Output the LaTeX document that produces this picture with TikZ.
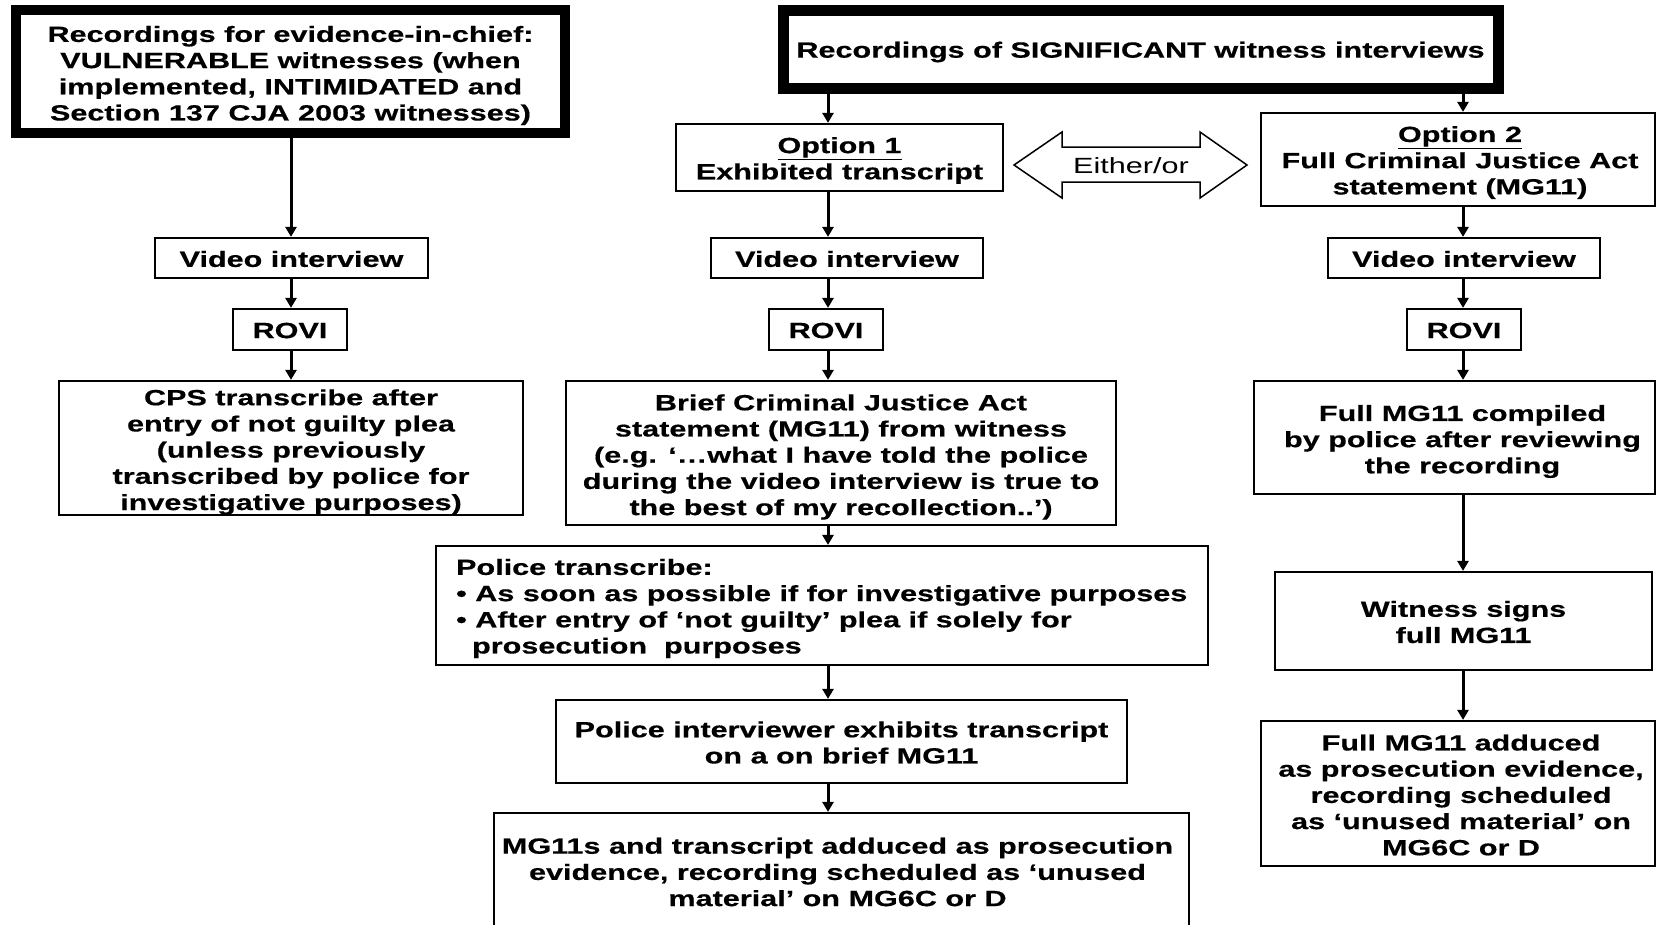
\documentclass[tikz,border=0pt]{standalone}
\usepackage{fontspec}
\setmainfont{Liberation Sans}[FakeStretch=1.39, BoldFeatures={FakeBold=0.5}]
\usetikzlibrary{arrows.meta}
\begin{document}
\begin{tikzpicture}[x=1pt,y=-1pt,
  box/.style={draw, line width=2.2pt, rectangle, inner sep=0pt},
  heavybox/.style={box, line width=11pt},
  txt/.style={inner sep=0pt, align=center, font=\bfseries\fontsize{22}{26.2}\selectfont},
  arr/.style={line width=3pt, -{Triangle[width=11pt,length=10pt]}},
]
\clip (0,0) rectangle (1656,924);
\fill[white] (0,0) rectangle (1656,924);
\coordinate (cl) at (291,0);
\coordinate (cm) at (828,0);
\coordinate (cr) at (1463,0);

% left column
\node[heavybox, line width=10pt, minimum width=549, minimum height=123] (A) at (290.5,71.5) {};
\node[txt] (At) at ([yshift=-4pt]A.center)
  {Recordings for evidence-in-chief:\\VULNERABLE witnesses (when\\implemented, INTIMIDATED and\\Section 137 CJA 2003 witnesses)};
\node[box, minimum width=273, minimum height=40] (VL) at (291.5,258) {};
\node[txt] (VLt) at ([yshift=-1pt]VL.center) {Video interview};
\node[box, minimum width=114, minimum height=41] (RL) at (290,329.5) {};
\node[txt] (RLt) at ([yshift=-1pt]RL.center) {ROVI};
\node[box, minimum width=464, minimum height=134] (CPS) at (291,448) {};
\node[txt] (CPSt) at ([yshift=-4pt]CPS.center)
  {CPS transcribe after\\entry of not guilty plea\\(unless previously\\transcribed by police for\\investigative purposes)};

% top middle
\node[heavybox, minimum width=715, minimum height=78] (T) at (1140.5,49) {};
\node[txt] (Tt) at ([yshift=-3pt]T.center) {Recordings of SIGNIFICANT witness interviews};

% middle column
\node[box, minimum width=327, minimum height=67] (O1) at (839.5,157.5) {};
\node[txt] (O1t) at ([yshift=-3pt]O1.center) {\underline{Option 1}\\Exhibited transcript};
\node[box, minimum width=272, minimum height=40] (VM) at (847,258) {};
\node[txt] (VMt) at ([yshift=-1pt]VM.center) {Video interview};
\node[box, minimum width=114, minimum height=41] (RM) at (826,329.5) {};
\node[txt] (RMt) at ([yshift=-1pt]RM.center) {ROVI};
\node[box, minimum width=550, minimum height=144] (BR) at (841,453) {};
\node[txt] (BRt) at ([yshift=-4pt]BR.center)
  {Brief Criminal Justice Act\\statement (MG11) from witness\\(e.g. ‘…what I have told the police\\during the video interview is true to\\the best of my recollection..’)};
\node[box, minimum width=772, minimum height=119] (PT) at (822,605.5) {};
\node[txt, align=left, anchor=west] (PTt) at ([xshift=21pt,yshift=-3pt]PT.west)
  {Police transcribe:\\• As soon as possible if for investigative purposes\\• After entry of ‘not guilty’ plea if solely for\\\hspace*{16pt}prosecution\ \ purposes};
\node[box, minimum width=571, minimum height=83] (PI) at (841.5,741.5) {};
\node[txt] (PIt) at ([yshift=-1pt]PI.center) {Police interviewer exhibits transcript\\on a on brief MG11};
\node[box, minimum width=695, minimum height=122] (MG) at (841.5,874) {};
\node[txt] (MGt) at ([xshift=-4pt,yshift=2pt]MG.center)
  {MG11s and transcript adduced as prosecution\\evidence, recording scheduled as ‘unused\\material’ on MG6C or D};

% either/or arrow
\draw[line width=1.5pt] (1014,165) -- (1062,132) -- (1062,147) -- (1200,147) -- (1200,132)
  -- (1247,165) -- (1200,198) -- (1200,182) -- (1062,182) -- (1062,198) -- cycle;
\node[font=\fontsize{22}{26.2}\selectfont, inner sep=0pt] (EO) at (1131,166) {Either/or};

% right column
\node[box, minimum width=394, minimum height=93] (O2) at (1458,159.5) {};
\node[txt] (O2t) at ([xshift=2pt,yshift=-3pt]O2.center)
  {\underline{Option 2}\\Full Criminal Justice Act\\statement (MG11)};
\node[box, minimum width=272, minimum height=40] (VR) at (1464,258) {};
\node[txt] (VRt) at ([yshift=-1pt]VR.center) {Video interview};
\node[box, minimum width=114, minimum height=41] (RR) at (1464,329.5) {};
\node[txt] (RRt) at ([yshift=-1pt]RR.center) {ROVI};
\node[box, minimum width=401, minimum height=113] (FC) at (1454.5,437.5) {};
\node[txt] (FCt) at ([xshift=8pt,yshift=-4pt]FC.center)
  {Full MG11 compiled\\by police after reviewing\\the recording};
\node[box, minimum width=377, minimum height=98] (WS) at (1463.5,621) {};
\node[txt] (WSt) at ([yshift=-1pt]WS.center) {Witness signs\\full MG11};
\node[box, minimum width=394, minimum height=145] (AD) at (1458,793.5) {};
\node[txt] (ADt) at ([xshift=3pt,yshift=-1.5pt]AD.center)
  {Full MG11 adduced\\as prosecution evidence,\\recording scheduled\\as ‘unused material’ on\\MG6C or D};

% connectors
\draw[arr] (A.south -| cl) -- (VL.north -| cl);
\draw[arr] (VL.south -| cl) -- (RL.north -| cl);
\draw[arr] (RL.south -| cl) -- (CPS.north -| cl);

\draw[arr] (T.south -| cm) -- (O1.north -| cm);
\draw[arr] (T.south -| cr) -- (O2.north -| cr);

\draw[arr] (O1.south -| cm) -- (VM.north -| cm);
\draw[arr] (VM.south -| cm) -- (RM.north -| cm);
\draw[arr] (RM.south -| cm) -- (BR.north -| cm);
\draw[arr] (BR.south -| cm) -- (PT.north -| cm);
\draw[arr] (PT.south -| cm) -- (PI.north -| cm);
\draw[arr] (PI.south -| cm) -- (MG.north -| cm);

\draw[arr] (O2.south -| cr) -- (VR.north -| cr);
\draw[arr] (VR.south -| cr) -- (RR.north -| cr);
\draw[arr] (RR.south -| cr) -- (FC.north -| cr);
\draw[arr] (FC.south -| cr) -- (WS.north -| cr);
\draw[arr] (WS.south -| cr) -- (AD.north -| cr);
\end{tikzpicture}
\end{document}
